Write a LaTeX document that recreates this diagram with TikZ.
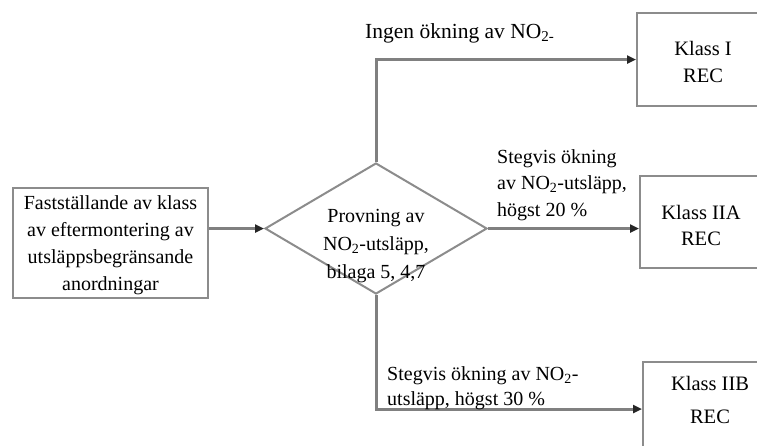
\documentclass[tikz,border=0pt]{standalone}
\usepackage{fontspec}
\setmainfont{Liberation Serif}
\usetikzlibrary{arrows.meta,shapes.geometric}
\definecolor{linegray}{HTML}{808080}
\definecolor{boxgray}{HTML}{8C8C8C}
\begin{document}
\begin{tikzpicture}[x=1pt,y=-1pt,
  every node/.style={font=\fontsize{20}{27}\selectfont, inner sep=0pt},
  box/.style={draw=boxgray, line width=2pt, fill=white, rectangle},
  dia/.style={draw=boxgray, line width=2pt, fill=white, diamond},
  txt/.style={align=center},
  lbl/.style={align=left, anchor=west},
  conn/.style={draw=linegray, line width=3pt, -{Triangle[length=9pt,width=8pt,color=black!85]}}
]
\useasboundingbox (0,0) rectangle (757,445);
\fill[white] (0,0) rectangle (757,445);

% boxes
\node[box, minimum width=195pt, minimum height=110pt] (src) at (110.5,243) {};
\node[txt] (srct) at (110.5,245) {Fastställande av klass\\av eftermontering av\\utsläppsbegränsande\\anordningar};

\node[dia, minimum width=222pt, minimum height=131pt] (d) at (376,228.5) {};
\node[txt, font=\fontsize{20}{28}\selectfont] (dt) at (376,246) {Provning av\\NO\textsubscript{2}-utsläpp,\\bilaga 5, 4,7};

\node[box, minimum width=132pt, minimum height=93pt] (k1) at (703,59.5) {};
\node[txt, font=\fontsize{20.5}{27}\selectfont] (k1t) at (703,62) {Klass I\\REC};

\node[box, minimum width=124pt, minimum height=92pt] (k2a) at (702,222) {};
\node[txt, font=\fontsize{20.5}{26}\selectfont] (k2at) at (701,225) {Klass IIA\\REC};

\node[box, minimum width=134pt, minimum height=94pt] (k2b) at (710,409) {};
\node[txt, font=\fontsize{20.5}{33}\selectfont] (k2bt) at (710,400) {Klass IIB\\REC};

% connectors
\draw[conn] (src.east |- d.west) -- (d.west);
\draw[conn] (d.north) |- (k1.west);
\draw[conn] (d.east) -- (d.east -| k2a.west);
\draw[conn] (d.south) |- (k2b.west);

% labels
\node[lbl, font=\fontsize{21.5}{27}\selectfont] (l1) at (365,33) {Ingen ökning av NO\textsubscript{2-}};
\node[lbl, font=\fontsize{20}{26.5}\selectfont] (l2) at (497,185) {Stegvis ökning\\av NO\textsubscript{2}-utsläpp,\\högst 20 \%};
\node[lbl, font=\fontsize{20}{25}\selectfont] (l3) at (387,388) {Stegvis ökning av NO\textsubscript{2}-\\utsläpp, högst 30 \%};
\end{tikzpicture}
\end{document}
